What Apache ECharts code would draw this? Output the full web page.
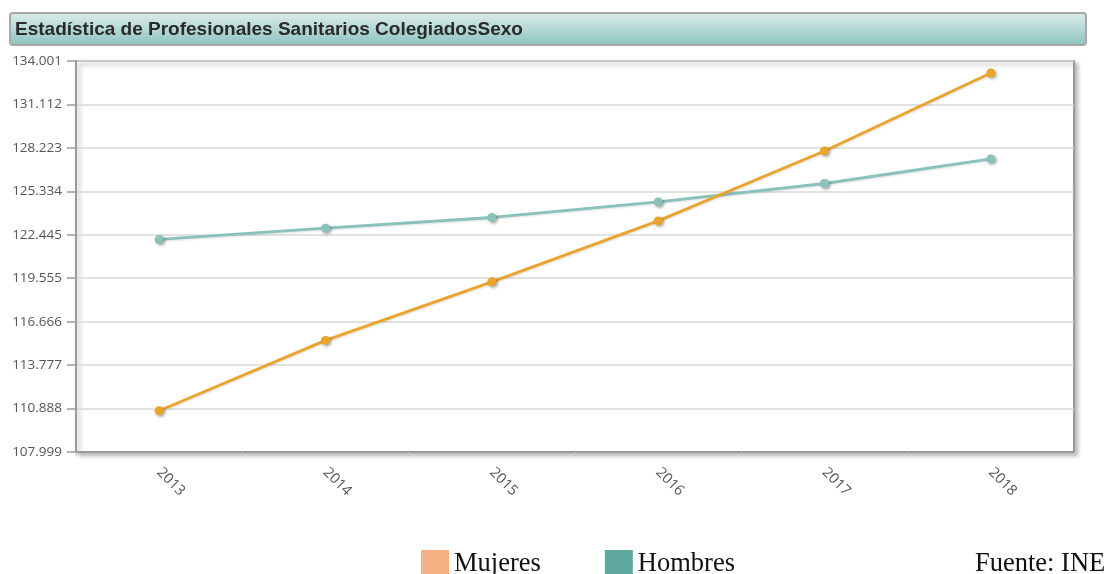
<!DOCTYPE html>
<html>
<head>
<meta charset="utf-8">
<title>Estadística de Profesionales Sanitarios Colegiados por Sexo</title>
<script src="https://cdn.jsdelivr.net/npm/echarts@6/dist/echarts.min.js"></script>
<style>
  html, body { margin: 0; padding: 0; background: #ffffff; }
  #chart { width: 1106px; height: 574px; }
</style>
</head>
<body>
<div id="chart"></div>
<script>
// Años
const years = ['2013', '2014', '2015', '2016', '2017', '2018'];

// Profesionales colegiados por sexo
const mujeres = [110743, 115421, 119315, 123369, 128020, 133204];
const hombres = [122133, 122884, 123595, 124631, 125854, 127489];

// Escala vertical y sus etiquetas (formato con punto de millares)
const yMin = 107999;
const yMax = 134001;
const yTickLabels = ['107.999', '110.888', '113.777', '116.666', '119.555',
                     '122.445', '125.334', '128.223', '131.112', '134.001'];

const titleText = 'Estadística de Profesionales Sanitarios ColegiadosSexo';
const sourceText = 'Fuente: INE';

const chart = echarts.init(document.getElementById('chart'), null, { renderer: 'canvas' });

const markShadow = {
  shadowColor: 'rgba(0,0,0,0.35)',
  shadowBlur: 3,
  shadowOffsetX: 1.5,
  shadowOffsetY: 1.5
};

chart.setOption({
  backgroundColor: '#ffffff',
  animation: false,
  graphic: [
    {
      type: 'rect',
      shape: { x: 10, y: 13, width: 1076, height: 32, r: 3 },
      style: {
        fill: new echarts.graphic.LinearGradient(0, 0, 0, 1, [
          { offset: 0, color: '#deedeb' },
          { offset: 1, color: '#8bc3bf' }
        ]),
        stroke: '#a8a8a8',
        lineWidth: 2
      },
      silent: true
    },
    {
      type: 'text',
      x: 15,
      y: 29.6,
      style: {
        text: titleText,
        font: 'bold 19px "Liberation Sans", Arial, sans-serif',
        fill: '#2a2a2a',
        verticalAlign: 'middle'
      },
      silent: true
    },
    {
      type: 'text',
      x: 975,
      y: 564,
      style: {
        text: sourceText,
        font: '26.5px "Liberation Serif", "Times New Roman", serif',
        fill: '#111111',
        verticalAlign: 'middle'
      },
      silent: true
    }
  ],
  legend: {
    left: 421,
    top: 550,
    padding: 0,
    itemGap: 64,
    itemWidth: 28,
    itemHeight: 28,
    icon: 'rect',
    selectedMode: false,
    textStyle: {
      fontFamily: '"Liberation Serif", "Times New Roman", serif',
      fontSize: 26.5,
      color: '#111111',
      lineHeight: 28
    },
    data: [
      { name: 'Mujeres', itemStyle: { color: '#f5b183' } },
      { name: 'Hombres', itemStyle: { color: '#5fa89f' } }
    ]
  },
  grid: {
    left: 76,
    right: 32,
    top: 61,
    bottom: 122,
    show: true,
    backgroundColor: '#ffffff',
    borderColor: '#9a9a9a',
    borderWidth: 2,
    shadowColor: 'rgba(0,0,0,0.25)',
    shadowBlur: 4,
    shadowOffsetX: 3,
    shadowOffsetY: 3,
    containLabel: false
  },
  xAxis: {
    type: 'category',
    data: years,
    boundaryGap: true,
    axisLine: { show: true, lineStyle: { color: '#9a9a9a', width: 2 } },
    axisTick: { show: true, length: 4, lineStyle: { color: '#c4c4c4', width: 1 } },
    axisLabel: {
      rotate: -45,
      margin: 18,
      fontFamily: '"Open Sans", sans-serif',
      fontSize: 14.5,
      color: '#555555'
    },
    splitLine: { show: false }
  },
  yAxis: {
    type: 'value',
    min: yMin,
    max: yMax,
    interval: (yMax - yMin) / (yTickLabels.length - 1),
    axisLine: { show: true, lineStyle: { color: '#9a9a9a', width: 2 } },
    axisTick: { show: true, length: 9, lineStyle: { color: '#9a9a9a', width: 1.5 } },
    axisLabel: {
      margin: 14,
      fontFamily: '"Open Sans", sans-serif',
      fontSize: 13.5,
      color: '#555555',
      formatter: (value, index) => yTickLabels[index]
    },
    splitLine: { show: true, lineStyle: { color: '#d8d8d8', width: 1.5 } }
  },
  series: [
    {
      name: 'Mujeres',
      type: 'line',
      data: mujeres,
      symbol: 'circle',
      symbolSize: 9,
      color: '#eba42b',
      lineStyle: {
        color: '#eba42b',
        width: 2.8,
        shadowColor: 'rgba(0,0,0,0.12)',
        shadowBlur: 2,
        shadowOffsetX: 1,
        shadowOffsetY: 1
      },
      itemStyle: Object.assign({ color: '#eba42b' }, markShadow),
      z: 3
    },
    {
      name: 'Hombres',
      type: 'line',
      data: hombres,
      symbol: 'circle',
      symbolSize: 9,
      color: '#89c2ba',
      lineStyle: {
        color: '#89c2ba',
        width: 2.8,
        shadowColor: 'rgba(0,0,0,0.12)',
        shadowBlur: 2,
        shadowOffsetX: 1,
        shadowOffsetY: 1
      },
      itemStyle: Object.assign({ color: '#89c2ba' }, markShadow),
      z: 2
    }
  ]
});
</script>
</body>
</html>
